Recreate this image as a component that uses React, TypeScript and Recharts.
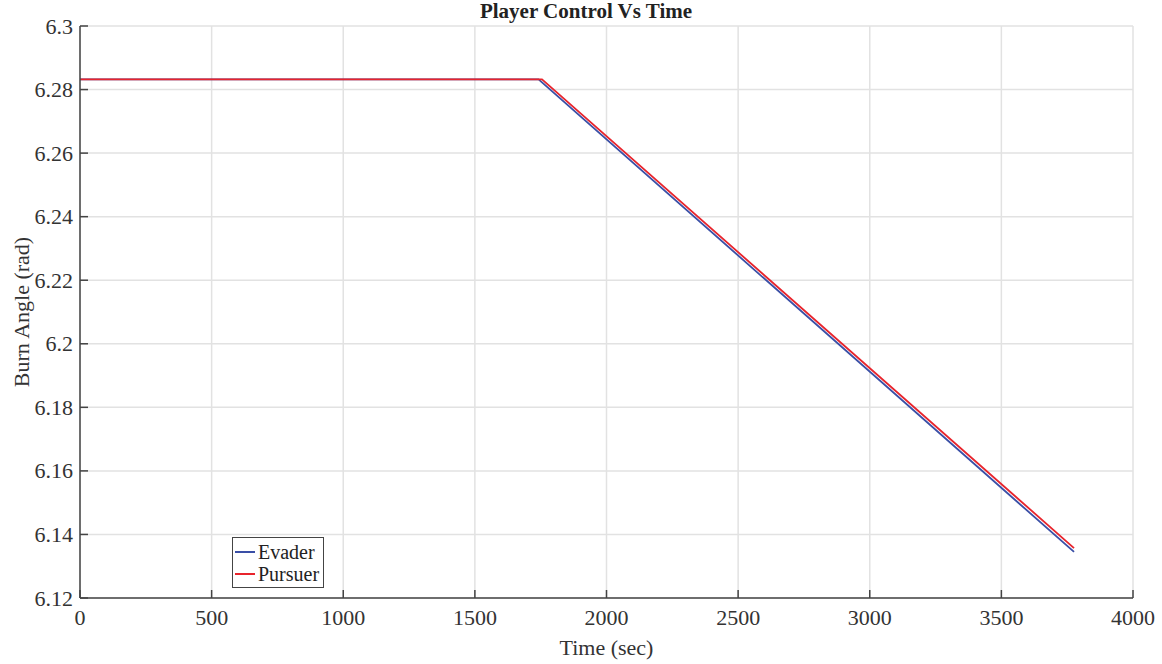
import React from 'react';
import { LineChart, Line, XAxis, YAxis, CartesianGrid } from 'recharts';

const evaderTime = [0, 1742, 3776];
const evaderAngle = [6.28319, 6.28319, 6.1345];
const pursuerTime = [0, 1755, 3776];
const pursuerAngle = [6.28319, 6.28319, 6.1357];

const xTicks = [0, 500, 1000, 1500, 2000, 2500, 3000, 3500, 4000];
const yTicks = [6.12, 6.14, 6.16, 6.18, 6.2, 6.22, 6.24, 6.26, 6.28, 6.3];

const seriesNames = ['Evader', 'Pursuer'];
const seriesColors = ['#3a4fa6', '#e8242c'];

const evaderData = evaderTime.map((t, i) => ({ t, v: evaderAngle[i] }));
const pursuerData = pursuerTime.map((t, i) => ({ t, v: pursuerAngle[i] }));

const FONT = '"Liberation Serif", "Times New Roman", serif';
const AXIS = '#444444';
const TEXT = '#333333';

const fmtY = (v: number) => String(Number(v.toFixed(2)));

const renderXTick = (props: any) => {
  const { x, y, payload } = props;
  return (
    <g key={`xt-${payload.value}`}>
      <line x1={x} y1={y} x2={x} y2={y - 8} stroke={AXIS} strokeWidth={1.5} />
      <text x={x} y={y + 19} textAnchor="middle" dominantBaseline="central" style={{ fontFamily: FONT, fontSize: 22 }} fill={TEXT}>
        {String(payload.value)}
      </text>
    </g>
  );
};

const renderYTick = (props: any) => {
  const { x, y, payload } = props;
  return (
    <g key={`yt-${payload.value}`}>
      <line x1={x} y1={y} x2={x + 8} y2={y} stroke={AXIS} strokeWidth={1.5} />
      <text x={x - 7} y={y} textAnchor="end" dominantBaseline="central" style={{ fontFamily: FONT, fontSize: 22 }} fill={TEXT}>
        {fmtY(payload.value)}
      </text>
    </g>
  );
};

export default function App() {
  return (
    <div style={{ position: 'absolute', left: 0, top: 0, width: 1162, height: 664, background: '#fff' }}>
      <LineChart
        width={1162}
        height={664}
        margin={{ top: 26, right: 29, bottom: 0, left: 0 }}
        style={{ position: 'absolute', left: 0, top: 0 }}
      >
        <CartesianGrid stroke="#e2e2e2" strokeWidth={1.5} />
        <XAxis
          dataKey="t"
          type="number"
          domain={[0, 4000]}
          ticks={xTicks}
          allowDataOverflow
          height={66}
          stroke={AXIS}
          strokeWidth={1.5}
          tickLine={false}
          tickSize={0}
          tickMargin={0}
          tick={renderXTick}
          label={{
            value: 'Time (sec)',
            content: (p: any) => {
              const vb = p.viewBox;
              return (
                <text x={vb.x + vb.width / 2} y={vb.y + 49} textAnchor="middle" dominantBaseline="central" style={{ fontFamily: FONT, fontSize: 22 }} fill={TEXT}>
                  Time (sec)
                </text>
              );
            },
          }}
        />
        <YAxis
          type="number"
          domain={[6.12, 6.3]}
          ticks={yTicks}
          allowDataOverflow
          width={80}
          stroke={AXIS}
          strokeWidth={1.5}
          tickLine={false}
          tickSize={0}
          tickMargin={0}
          tick={renderYTick}
          label={{
            value: 'Burn Angle (rad)',
            content: (p: any) => {
              const vb = p.viewBox;
              const cy = vb.y + vb.height / 2;
              return (
                <text x={21} y={cy} transform={`rotate(-90, 21, ${cy})`} textAnchor="middle" dominantBaseline="central" style={{ fontFamily: FONT, fontSize: 22 }} fill={TEXT}>
                  Burn Angle (rad)
                </text>
              );
            },
          }}
        />
        <Line data={evaderData} dataKey="v" name={seriesNames[0]} stroke={seriesColors[0]} strokeWidth={1.8} dot={false} isAnimationActive={false} />
        <Line data={pursuerData} dataKey="v" name={seriesNames[1]} stroke={seriesColors[1]} strokeWidth={1.8} dot={false} isAnimationActive={false} />
      </LineChart>
      <div
        style={{
          position: 'absolute',
          left: 386,
          width: 400,
          top: 0,
          textAlign: 'center',
          fontFamily: FONT,
          fontWeight: 'bold',
          fontSize: 21,
          color: '#222',
          lineHeight: '22px',
        }}
      >
        Player Control Vs Time
      </div>
      <div
        style={{
          position: 'absolute',
          left: 232,
          top: 537,
          width: 90,
          height: 49,
          border: '1.5px solid #444',
          background: '#fff',
          fontFamily: FONT,
          fontSize: 20,
          color: '#222',
          boxSizing: 'content-box',
        }}
      >
        {seriesNames.map((n, i) => (
          <div key={n} style={{ display: 'flex', alignItems: 'center', height: 22, marginTop: i === 0 ? 3 : 0 }}>
            <div style={{ width: 20, height: 2, background: seriesColors[i], marginLeft: 2, marginRight: 3 }} />
            <span style={{ lineHeight: '22px' }}>{n}</span>
          </div>
        ))}
      </div>
    </div>
  );
}
